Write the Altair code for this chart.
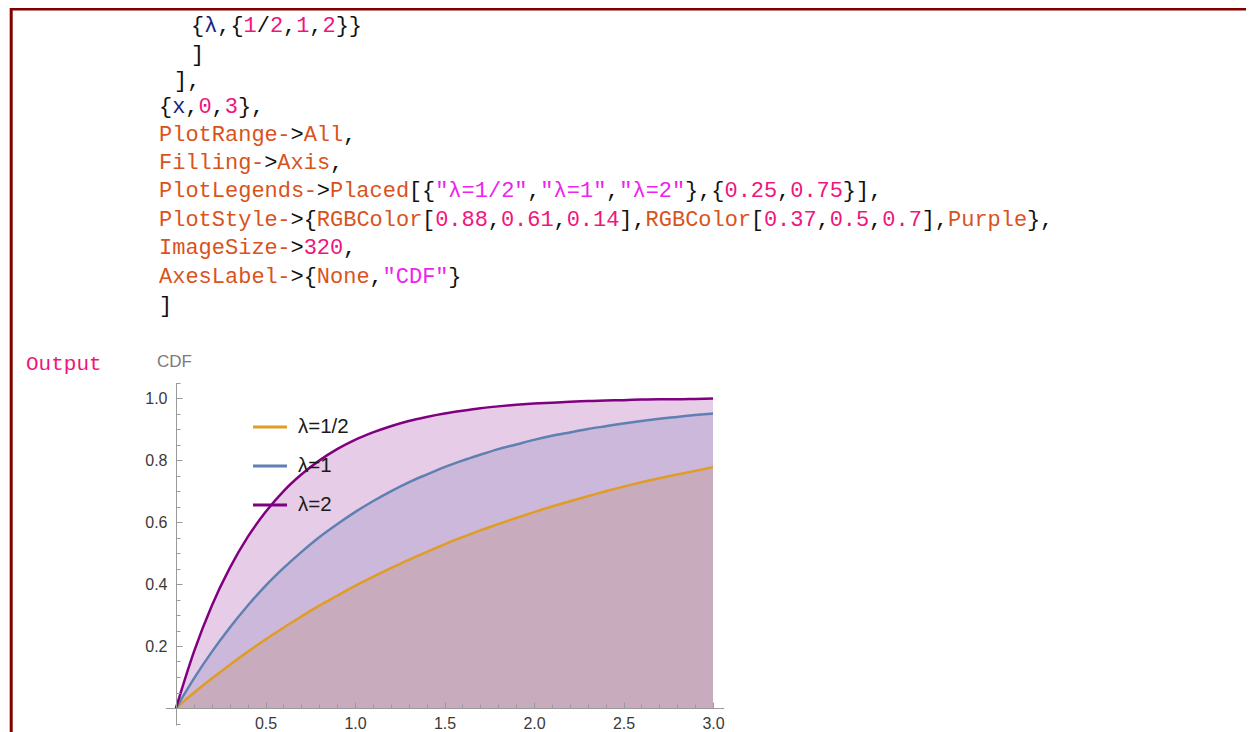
import re
import altair as alt
import pandas as pd

# ---------------- data ----------------
x_vals = [0.0, 0.1, 0.2, 0.3, 0.4, 0.5, 0.6, 0.7, 0.8, 0.9, 1.0,
          1.1, 1.2, 1.3, 1.4, 1.5, 1.6, 1.7, 1.8, 1.9, 2.0,
          2.1, 2.2, 2.3, 2.4, 2.5, 2.6, 2.7, 2.8, 2.9, 3.0]
cdf_half = [0.000, 0.049, 0.095, 0.139, 0.181, 0.221, 0.259, 0.295, 0.330, 0.362, 0.394,
            0.423, 0.451, 0.478, 0.503, 0.528, 0.551, 0.573, 0.593, 0.613, 0.632,
            0.650, 0.667, 0.683, 0.699, 0.714, 0.728, 0.741, 0.753, 0.765, 0.777]
cdf_one = [0.000, 0.095, 0.181, 0.259, 0.330, 0.394, 0.451, 0.503, 0.551, 0.593, 0.632,
           0.667, 0.699, 0.728, 0.753, 0.777, 0.798, 0.817, 0.835, 0.850, 0.865,
           0.878, 0.889, 0.900, 0.909, 0.918, 0.926, 0.933, 0.939, 0.945, 0.950]
cdf_two = [0.000, 0.181, 0.330, 0.451, 0.551, 0.632, 0.699, 0.753, 0.798, 0.835, 0.865,
           0.889, 0.909, 0.926, 0.939, 0.950, 0.959, 0.967, 0.973, 0.978, 0.982,
           0.985, 0.988, 0.990, 0.992, 0.993, 0.995, 0.996, 0.996, 0.997, 0.998]

series_names = ["λ=1/2", "λ=1", "λ=2"]
series_colors = ["#E09C24", "#5E80B3", "#800080"]

x_major = [0.5, 1.0, 1.5, 2.0, 2.5, 3.0]
x_minor = [0.1, 0.2, 0.3, 0.4, 0.6, 0.7, 0.8, 0.9, 1.1, 1.2, 1.3, 1.4,
           1.6, 1.7, 1.8, 1.9, 2.1, 2.2, 2.3, 2.4, 2.6, 2.7, 2.8, 2.9]
y_major = [0.2, 0.4, 0.6, 0.8, 1.0]
y_minor = [-0.05, 0.05, 0.1, 0.15, 0.25, 0.3, 0.35, 0.45, 0.5, 0.55, 0.65,
           0.7, 0.75, 0.85, 0.9, 0.95, 1.05]

code_lines = [
    '{λ,{1/2,1,2}}',
    ']',
    '],',
    '{x,0,3},',
    'PlotRange->All,',
    'Filling->Axis,',
    'PlotLegends->Placed[{"λ=1/2","λ=1","λ=2"},{0.25,0.75}],',
    'PlotStyle->{RGBColor[0.88,0.61,0.14],RGBColor[0.37,0.5,0.7],Purple},',
    'ImageSize->320,',
    'AxesLabel->{None,"CDF"}',
    ']',
]
output_label = "Output"
y_axis_label = "CDF"

# ---------------- layout ----------------
W, H = 1238, 724
X_DOMAIN = [-0.06, 3.06]
X_RANGE = [157.26, 715.74]
Y_DOMAIN = [-0.055, 1.05]
Y_RANGE = [717.05, 374.5]
AXIS_Y_PX = 700      # pixel row of y = 0
AXIS_X_PX = 168      # pixel column of x = 0

xs = alt.Scale(domain=X_DOMAIN, range=X_RANGE, nice=False, zero=False)
ys = alt.Scale(domain=Y_DOMAIN, range=Y_RANGE, nice=False, zero=False)

AX_GREY = "#9a9a9a"
LBL = dict(labelFont="Liberation Sans", labelFontSize=16, labelColor="#3a3a3a")

x_lab_axis = alt.Axis(orient="bottom", offset=AXIS_Y_PX - H, values=x_major, format=".1f",
                      ticks=False, tickSize=0, domain=False, grid=False, title=None,
                      labelPadding=7, labelBaseline="top", **LBL)
x_maj_axis = alt.Axis(orient="top", offset=-AXIS_Y_PX, values=x_major, labels=False,
                      tickSize=6, tickColor=AX_GREY, tickWidth=1, domain=True,
                      domainColor=AX_GREY, domainWidth=1, grid=False, title=None, zindex=1)
x_min_axis = alt.Axis(orient="top", offset=-AXIS_Y_PX, values=x_minor, labels=False,
                      tickSize=4, tickColor=AX_GREY, tickWidth=1, domain=False,
                      grid=False, title=None, zindex=1)
y_lab_axis = alt.Axis(orient="left", offset=-AXIS_X_PX, values=y_major, format=".1f",
                      ticks=False, tickSize=0, domain=False, grid=False, title=None,
                      labelPadding=9, **LBL)
y_maj_axis = alt.Axis(orient="right", offset=AXIS_X_PX - W, values=y_major, labels=False,
                      tickSize=6, tickColor=AX_GREY, tickWidth=1, domain=True,
                      domainColor=AX_GREY, domainWidth=1, grid=False, title=None, zindex=1)
y_min_axis = alt.Axis(orient="right", offset=AXIS_X_PX - W, values=y_minor, labels=False,
                      tickSize=4, tickColor=AX_GREY, tickWidth=1, domain=False,
                      grid=False, title=None, zindex=1)

series_vals = [cdf_half, cdf_one, cdf_two]
axes_for_layer = [(x_lab_axis, y_lab_axis), (x_maj_axis, y_maj_axis), (x_min_axis, y_min_axis)]

layers = []
for name, col, vals, (ax_x, ax_y) in zip(series_names, series_colors, series_vals, axes_for_layer):
    df = pd.DataFrame({"x": x_vals, "y": vals})
    layers.append(
        alt.Chart(df).mark_area(color=col, opacity=0.2, interpolate="monotone").encode(
            x=alt.X("x:Q", scale=xs, axis=ax_x),
            y=alt.Y("y:Q", scale=ys, axis=ax_y),
            y2=alt.datum(0),
        )
    )

long_df = pd.concat(
    [pd.DataFrame({"x": x_vals, "y": v, "series": n, "order": i})
     for i, (n, v) in enumerate(zip(series_names, series_vals))],
    ignore_index=True,
)
lines = alt.Chart(long_df).mark_line(strokeWidth=2.5, interpolate="monotone").encode(
    x=alt.X("x:Q", scale=xs, axis=None),
    y=alt.Y("y:Q", scale=ys, axis=None),
    color=alt.Color(
        "series:N", sort=series_names,
        scale=alt.Scale(domain=series_names, range=series_colors),
        legend=alt.Legend(orient="none", legendX=243.5, legendY=400.5, title=None,
                          symbolType="stroke", symbolSize=1156, symbolStrokeWidth=3,
                          labelFont="Liberation Sans", labelFontSize=20.5, labelColor="#1a1a1a",
                          labelOffset=9.5, rowPadding=10, padding=0),
    ),
    order=alt.Order("order:Q"),
)
layers.append(lines)

# ---------------- code text (syntax coloured tokens) ----------------
COLORS = {"str": "#EE22EE", "num": "#F0147C", "sym": "#D9531C", "var": "#1A237E", "punct": "#111111"}
tok_re = re.compile(r'"[^"]*"|\d+(?:\.\d+)?|[A-Z][A-Za-z]*|[a-zλ]+|-|.')
CHAR_W = 13.15
CODE_X0 = 151
indents = [32, 32, 15, 0, 0, 0, 0, 0, 0, 0, 0]
line_y = [25, 54, 80, 106, 134, 162, 190, 219, 247, 276, 305]
rows = []
for li, line in enumerate(code_lines):
    for m in tok_re.finditer(line):
        t = m.group(0)
        if t.startswith('"'):
            c = "str"
        elif t[0].isdigit():
            c = "num"
        elif t[0].isupper() or t == "-":
            c = "sym"
        elif t[0].isalpha():
            c = "var"
        else:
            c = "punct"
        rows.append({"text": t, "px": CODE_X0 + indents[li] + m.start() * CHAR_W,
                     "py": line_y[li] - 8, "color": COLORS[c]})
code_df = pd.DataFrame(rows)
code = alt.Chart(code_df).mark_text(align="left", baseline="middle", font="Liberation Mono",
                                    fontSize=22).encode(
    x=alt.X("px:Q", scale=None, axis=None),
    y=alt.Y("py:Q", scale=None, axis=None),
    color=alt.Color("color:N", scale=None, legend=None),
    text="text:N",
)
layers.append(code)

out_txt = alt.Chart(pd.DataFrame({"t": [output_label]})).mark_text(
    align="left", baseline="middle", font="Liberation Mono", fontSize=21, color="#F0147C"
).encode(x=alt.value(18), y=alt.value(356), text="t:N")
cdf_txt = alt.Chart(pd.DataFrame({"t": [y_axis_label]})).mark_text(
    align="left", baseline="middle", font="Liberation Sans", fontSize=17, color="#7a7a7a"
).encode(x=alt.value(149), y=alt.value(354), text="t:N")
layers += [out_txt, cdf_txt]

frame_col = "#800000"
left_border = alt.Chart(pd.DataFrame({"a": [0]})).mark_rule(color=frame_col, strokeWidth=3).encode(
    x=alt.value(3.2), y=alt.value(0), y2=alt.value(H))
top_border = alt.Chart(pd.DataFrame({"a": [0]})).mark_rule(color=frame_col, strokeWidth=3).encode(
    x=alt.value(2), x2=alt.value(W), y=alt.value(1))
layers += [left_border, top_border]

chart = alt.layer(*layers).resolve_axis(x="independent", y="independent").properties(
    width=W, height=H, padding=0, autosize=alt.AutoSizeParams(type="none")
).configure_view(strokeWidth=0)

chart.save("out.html", embed_options={"renderer": "svg", "actions": False})
